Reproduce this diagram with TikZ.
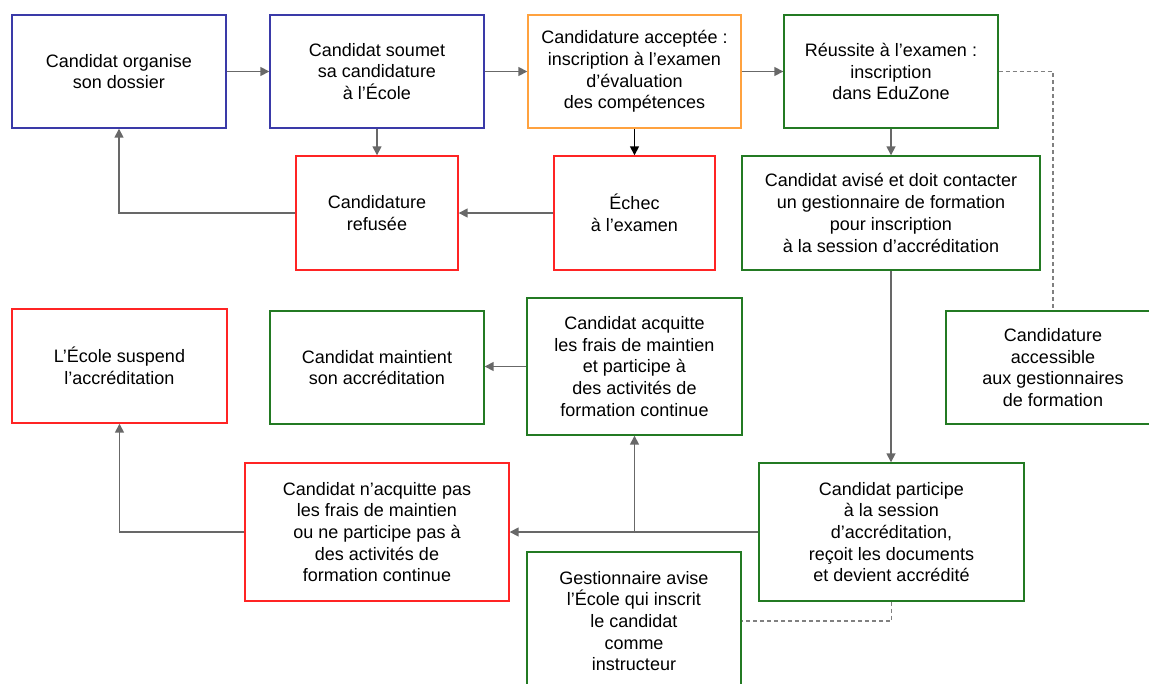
\documentclass[tikz,border=0pt]{standalone}
\usepackage{fontspec}
\setmainfont{Liberation Sans}
\usetikzlibrary{arrows.meta}
\definecolor{cblue}{HTML}{3A3AA8}
\definecolor{corange}{HTML}{FFA23F}
\definecolor{cred}{HTML}{FF2424}
\definecolor{cgreen}{HTML}{237A23}
\definecolor{carrow}{HTML}{686868}
\definecolor{cdash}{HTML}{808080}
\newcommand{\boxfont}{\fontsize{18}{21.7}\selectfont}
\tikzset{
  bx/.style={draw=#1, line width=1.4pt, inner sep=0pt, align=center, font=\boxfont, text=black},
  arr/.style={draw=carrow, line width=1.6pt, -{Triangle[length=9pt,width=9pt]}},
  arrk/.style={draw=black, line width=1.6pt, -{Triangle[length=9pt,width=9pt]}},
  dsh/.style={draw=cdash, line width=1.2pt, dash pattern=on 4pt off 3pt},
}
\begin{document}
\begin{tikzpicture}[x=1pt,y=-1pt]
\useasboundingbox (0,0) rectangle (1149,683);
\clip (0,0) rectangle (1149,683);
% row 1
\node[bx=cblue, minimum width=214pt, minimum height=113pt] (b1) at (119,71.5) {Candidat organise\\son dossier};
\node[bx=cblue, minimum width=214pt, minimum height=113pt] (b2) at (377,71.5) {Candidat soumet\\sa candidature\\à l’École};
\node[bx=corange, minimum width=213pt, minimum height=113pt] (b3) at (634.5,71.5) {Candidature acceptée :\\inscription à l’examen\\d’évaluation\\des compétences};
\node[bx=cgreen, minimum width=214pt, minimum height=113pt] (b4) at (891,71.5) {Réussite à l’examen :\\inscription\\dans EduZone};
% row 2
\node[bx=cred, minimum width=162pt, minimum height=114pt] (ref) at (377,213) {Candidature\\refusée};
\node[bx=cred, minimum width=161pt, minimum height=114pt] (ech) at (634.5,213) {Échec\\à l’examen};
\node[bx=cgreen, minimum width=298pt, minimum height=114pt] (avi) at (891,213) {Candidat avisé et doit contacter\\un gestionnaire de formation\\pour inscription\\à la session d’accréditation};
% row 3
\node[bx=cred, minimum width=215pt, minimum height=114pt] (sus) at (119.5,366) {L’École suspend\\l’accréditation};
\node[bx=cgreen, minimum width=214pt, minimum height=113pt] (mai) at (377,367.5) {Candidat maintient\\son accréditation};
\node[bx=cgreen, minimum width=215pt, minimum height=137pt] (acq) at (634.5,366.5) {Candidat acquitte\\les frais de maintien\\et participe à\\des activités de\\formation continue};
\node[bx=cgreen, minimum width=214pt, minimum height=113pt] (acc) at (1053,367.5) {Candidature\\accessible\\aux gestionnaires\\de formation};
% row 4
\node[bx=cred, minimum width=264pt, minimum height=138pt] (nac) at (377,532) {Candidat n’acquitte pas\\les frais de maintien\\ou ne participe pas à\\des activités de\\formation continue};
\node[bx=cgreen, minimum width=265pt, minimum height=138pt] (par) at (891.5,532) {Candidat participe\\à la session\\d’accréditation,\\reçoit les documents\\et devient accrédité};
\node[bx=cgreen, minimum width=214pt, minimum height=138pt] (ges) at (634,621) {Gestionnaire avise\\l’École qui inscrit\\le candidat\\comme\\instructeur};
% connectors
\draw[arr] (b1.east) -- (b2.west);
\draw[arr] (b2.east) -- (b3.west);
\draw[arr] (b3.east) -- (b4.west);
\draw[arr] (b2.south) -- (ref.north);
\draw[arrk] (b3.south) -- (ech.north);
\draw[arr] (b4.south) -- (avi.north);
\draw[arr] (ech.west) -- (ref.east);
\draw[arr] (ref.west) -| (b1.south);
\draw[arr] (avi.south) -- (avi.south |- par.north);
\draw[arr] (par.west) -- (nac.east);
\coordinate (j) at (acq.south |- par.west);
\draw[arr] (j) -- (acq.south);
\draw[arr] (acq.west) -- (acq.west -| mai.east);
\draw[arr] (nac.west) -| (sus.south);
\draw[dsh] (b4.east) -| (acc.north);
\draw[dsh] (par.south) |- (ges.east);
\end{tikzpicture}
\end{document}
